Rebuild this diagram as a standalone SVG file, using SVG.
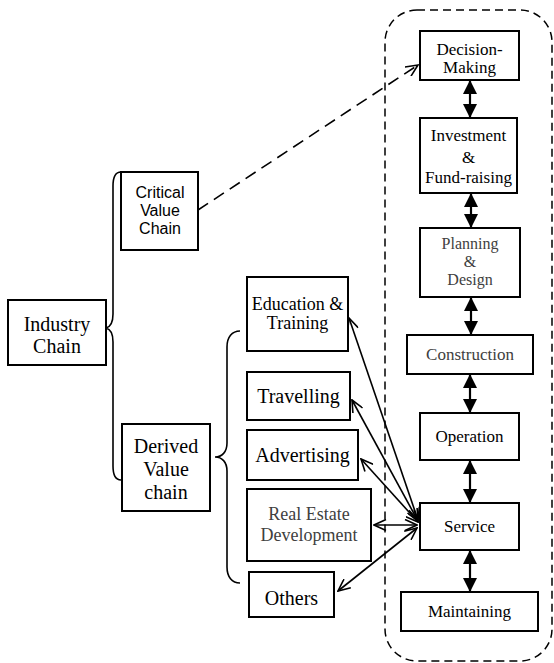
<svg xmlns="http://www.w3.org/2000/svg" width="554" height="663" viewBox="0 0 554 663">
<style>
.box{fill:#fff;stroke:#000;stroke-width:2}
.t{font-family:'Liberation Serif','Times New Roman',Times,'DejaVu Serif',serif;fill:#000;text-anchor:middle}
.s{font-family:'Liberation Sans',Arial,sans-serif;fill:#000;text-anchor:middle}
.g{fill:#404040}
.conn{fill:none;stroke:#000;stroke-width:1.6}
.dbl{fill:none;stroke:#000;stroke-width:2.2}
.brace{fill:none;stroke:#000;stroke-width:1.6}
</style>
<defs>
<marker id="open" markerUnits="userSpaceOnUse" markerWidth="14" markerHeight="12" viewBox="0 0 14 12" refX="13" refY="6" orient="auto-start-reverse">
<path d="M1,0.5 L13,6 L1,11.5" fill="none" stroke="#000" stroke-width="1.6"/>
</marker>
<marker id="solid" markerUnits="userSpaceOnUse" markerWidth="14" markerHeight="14" viewBox="0 0 14 14" refX="14" refY="7" orient="auto-start-reverse">
<path d="M0,0 L14,7 L0,14 z" fill="#000"/>
</marker>
</defs>

<rect x="385" y="10" width="167" height="651" rx="32" fill="none" stroke="#000" stroke-width="1.5" stroke-dasharray="8 5"/>

<g id="connectors">
<path class="brace" d="M121,172 C115,172 113,177 113,186 L113,314 C113,322 110,327 106,328 C110,329 113,334 113,342 L113,466 C113,475 115,480 121,480"/>
<path class="brace" d="M240,331 C232,331 227,337 227,347 L227,443 C227,452 222,457 215,457 C222,457 227,462 227,471 L227,567 C227,577 232,583 240,583"/>
<line class="conn" x1="198" y1="210" x2="418" y2="65" stroke-width="2" stroke-dasharray="12 7" marker-end="url(#open)"/>
<line class="dbl" x1="470" y1="80" x2="470" y2="118" marker-start="url(#solid)" marker-end="url(#solid)"/>
<line class="dbl" x1="471" y1="193" x2="471" y2="228" marker-start="url(#solid)" marker-end="url(#solid)"/>
<line class="dbl" x1="471" y1="297" x2="471" y2="335" marker-start="url(#solid)" marker-end="url(#solid)"/>
<line class="dbl" x1="470" y1="374" x2="470" y2="413" marker-start="url(#solid)" marker-end="url(#solid)"/>
<line class="dbl" x1="470" y1="460" x2="470" y2="503" marker-start="url(#solid)" marker-end="url(#solid)"/>
<line class="dbl" x1="470" y1="550" x2="470" y2="592" marker-start="url(#solid)" marker-end="url(#solid)"/>
<line class="conn" x1="349" y1="318" x2="418" y2="520" marker-start="url(#open)" marker-end="url(#open)"/>
<line class="conn" x1="352" y1="400" x2="418" y2="521" marker-start="url(#open)" marker-end="url(#open)"/>
<line class="conn" x1="361" y1="459" x2="418" y2="522" marker-start="url(#open)" marker-end="url(#open)"/>
<line class="conn" x1="374" y1="525" x2="417" y2="525" marker-start="url(#open)" marker-end="url(#open)"/>
<line class="conn" x1="338" y1="591" x2="417" y2="528" marker-start="url(#open)" marker-end="url(#open)"/>
</g>

<g id="industry-chain">
<rect class="box" x="8" y="300" width="98" height="65"/>
<text class="t" font-size="20" x="57" y="331">Industry</text>
<text class="t" font-size="20" x="57" y="353">Chain</text>
</g>
<g id="critical-value-chain">
<rect class="box" x="121" y="172" width="77" height="78"/>
<text class="s" font-size="16" x="160" y="198">Critical</text>
<text class="s" font-size="16" x="160" y="216">Value</text>
<text class="s" font-size="16" x="160" y="234">Chain</text>
</g>
<g id="derived-value-chain">
<rect class="box" x="122" y="424" width="88" height="87"/>
<text class="t" font-size="20" x="166" y="453">Derived</text>
<text class="t" font-size="20" x="166" y="476">Value</text>
<text class="t" font-size="20" x="166" y="499">chain</text>
</g>

<g id="education-training">
<rect class="box" x="247" y="277" width="101" height="74"/>
<text class="t" font-size="18" x="297.5" y="310">Education &amp;</text>
<text class="t" font-size="18" x="297.5" y="329">Training</text>
</g>
<g id="travelling">
<rect class="box" x="247" y="372" width="103" height="48"/>
<text class="t" font-size="20" x="298.5" y="403">Travelling</text>
</g>
<g id="advertising">
<rect class="box" x="247" y="430" width="111" height="50"/>
<text class="t" font-size="20" x="302.5" y="462">Advertising</text>
</g>
<g id="real-estate">
<rect class="box" x="247" y="489" width="124" height="72"/>
<text class="t g" font-size="18" x="309" y="520">Real Estate</text>
<text class="t g" font-size="18" x="309" y="541">Development</text>
</g>
<g id="others">
<rect class="box" x="249" y="572" width="85" height="45"/>
<text class="t" font-size="20" x="291.5" y="605">Others</text>
</g>

<g id="decision-making">
<rect class="box" x="420" y="31" width="99" height="49"/>
<text class="t" font-size="17" x="469.5" y="55">Decision-</text>
<text class="t" font-size="17" x="469.5" y="73">Making</text>
</g>
<g id="investment">
<rect class="box" x="420" y="118" width="97" height="75"/>
<text class="t" font-size="17" x="468.5" y="141">Investment</text>
<text class="t" font-size="17" x="468.5" y="163">&amp;</text>
<text class="t" font-size="17" x="468.5" y="183">Fund-raising</text>
</g>
<g id="planning-design">
<rect class="box" x="420" y="228" width="100" height="69"/>
<text class="t g" font-size="16" x="470" y="249">Planning</text>
<text class="t g" font-size="16" x="470" y="267">&amp;</text>
<text class="t g" font-size="16" x="470" y="285">Design</text>
</g>
<g id="construction">
<rect class="box" x="407" y="335" width="126" height="39"/>
<text class="t g" font-size="17" x="470" y="360">Construction</text>
</g>
<g id="operation">
<rect class="box" x="420" y="413" width="99" height="47"/>
<text class="t" font-size="17" x="469.5" y="442">Operation</text>
</g>
<g id="service">
<rect class="box" x="420" y="503" width="99" height="47"/>
<text class="t" font-size="17" x="469.5" y="532">Service</text>
</g>
<g id="maintaining">
<rect class="box" x="401" y="592" width="137" height="39"/>
<text class="t" font-size="17" x="469.5" y="617">Maintaining</text>
</g>
</svg>
